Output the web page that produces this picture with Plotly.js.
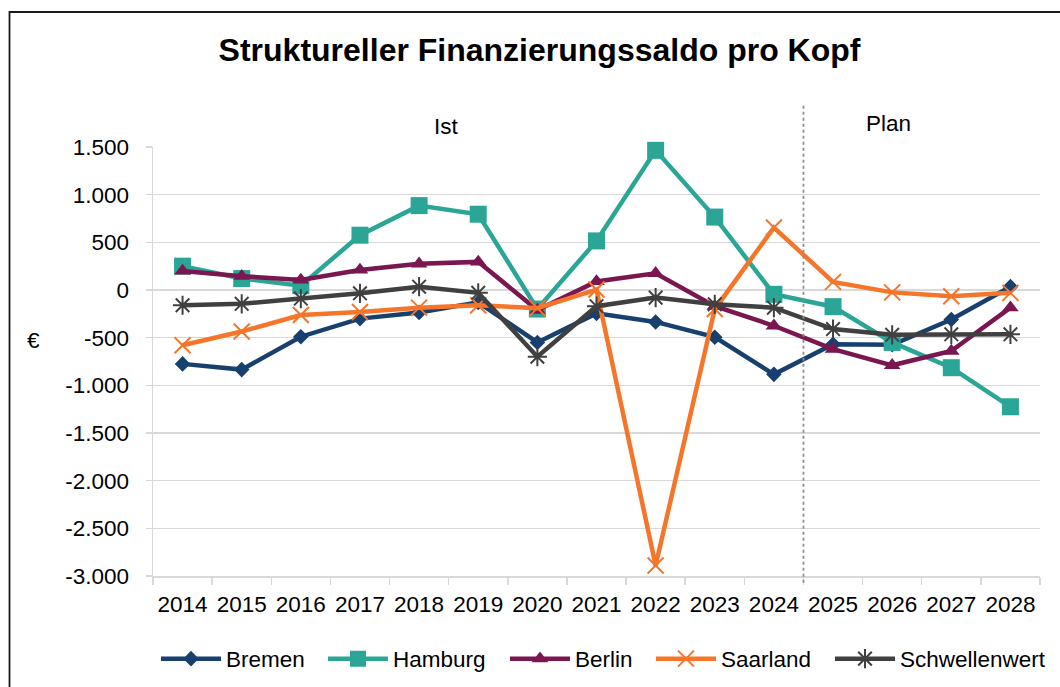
<!DOCTYPE html>
<html>
<head>
<meta charset="utf-8">
<script src="https://cdn.plot.ly/plotly-3.0.1.min.js"></script>
<style>
  html, body { margin: 0; padding: 0; background: #ffffff; }
  #chart { width: 1060px; height: 687px; }
</style>
</head>
<body>
<div id="chart"></div>
<script>
const years = ['2014','2015','2016','2017','2018','2019','2020','2021','2022','2023','2024','2025','2026','2027','2028'];

const bremen        = [-775, -835, -490, -300, -235, -130, -550, -245, -335, -495, -885, -570, -575, -310, 35];
const hamburg       = [250, 120, 45, 575, 885, 795, -200, 515, 1465, 765, -45, -175, -550, -815, -1225];
const berlin        = [200, 145, 105, 210, 275, 295, -210, 90, 175, -170, -375, -620, -790, -640, -185];
const saarland      = [-580, -435, -262, -230, -185, -160, -190, 5, -2890, -200, 655, 85, -25, -65, -30];
const schwellenwert = [-160, -145, -90, -35, 35, -30, -700, -170, -80, -150, -185, -410, -470, -465, -465];

const seriesNames = ['Bremen', 'Hamburg', 'Berlin', 'Saarland', 'Schwellenwert'];

const yTickVals = [1500, 1000, 500, 0, -500, -1000, -1500, -2000, -2500, -3000];
const yTickText = ['1.500', '1.000', '500', '0', '-500', '-1.000', '-1.500', '-2.000', '-2.500', '-3.000'];

const titleText = 'Struktureller Finanzierungssaldo pro Kopf';
const yUnit = '€';
const periodLabels = ['Ist', 'Plan'];

const FONT = 'Liberation Sans, Arial, sans-serif';

const styles = [
  {color: '#17406E', symbol: 'diamond', size: 12, lw: 0},
  {color: '#2AA596', symbol: 'square', size: 17, lw: 0},
  {color: '#7A1650', symbol: 'triangle-up', size: 14.5, lw: 0},
  {color: '#F5762A', symbol: 'x-thin-open', size: 16, lw: 2},
  {color: '#404040', symbol: 'asterisk-open', size: 16, lw: 2}
];

// left edge (px) of each legend entry
const legendLeft = [156, 323, 505, 651, 830];
const legendKeys = ['legend', 'legend2', 'legend3', 'legend4', 'legend5'];

const values = [bremen, hamburg, berlin, saarland, schwellenwert];

const traces = values.map((v, i) => ({
  type: 'scatter',
  mode: 'lines+markers',
  name: seriesNames[i],
  legend: legendKeys[i],
  x: years,
  y: v,
  line: {color: styles[i].color, width: 4.5},
  marker: {
    color: styles[i].color,
    symbol: styles[i].symbol,
    size: styles[i].size,
    line: {color: styles[i].color, width: styles[i].lw}
  },
  cliponaxis: false
}));

const layout = {
  width: 1060,
  height: 687,
  margin: {l: 153, r: 20, t: 147, b: 111, autoexpand: false},
  paper_bgcolor: '#ffffff',
  plot_bgcolor: '#ffffff',
  font: {family: FONT, size: 22.5, color: '#000000'},
  showlegend: true,
  title: {
    text: '<b>' + titleText + '</b>',
    font: {family: FONT, size: 32, color: '#000000'},
    x: 0.509, xanchor: 'center',
    y: 1 - 50 / 687, yanchor: 'middle'
  },
  xaxis: {
    type: 'category',
    range: [-0.5, 14.5],
    tickson: 'boundaries',
    tickangle: 0,
    showgrid: false,
    showline: true,
    linecolor: '#d9d9d9',
    linewidth: 1.5,
    ticks: 'outside',
    ticklen: 7,
    tickcolor: '#d9d9d9',
    tickwidth: 1.5,
    ticklabelstandoff: 7,
    tickfont: {family: FONT, size: 22.5, color: '#000000'},
    zeroline: false,
    automargin: false,
    fixedrange: true
  },
  yaxis: {
    range: [-3000, 1500],
    tickvals: yTickVals,
    ticktext: yTickText,
    showgrid: true,
    gridcolor: '#d9d9d9',
    gridwidth: 1.5,
    showline: true,
    linecolor: '#d9d9d9',
    linewidth: 1.5,
    ticks: 'outside',
    ticklen: 6,
    tickcolor: '#d9d9d9',
    tickwidth: 1.5,
    ticklabelstandoff: 12,
    tickfont: {family: FONT, size: 22.5, color: '#000000'},
    zeroline: false,
    automargin: false,
    fixedrange: true
  },
  shapes: [
    {
      type: 'line', xref: 'x', yref: 'paper',
      x0: 10.5, x1: 10.5, y0: -0.016, y1: 1.098,
      line: {color: '#8c8c8c', width: 1.8, dash: 'dot'}
    },
    {
      type: 'rect', xref: 'paper', yref: 'paper',
      x0: (9.5 - 153) / 887, x1: 1.05,
      y0: -0.35, y1: (576 - 12) / 429,
      line: {color: '#1a1a1a', width: 1.8},
      fillcolor: 'rgba(0,0,0,0)'
    }
  ],
  annotations: [
    {
      text: yUnit, xref: 'paper', yref: 'paper',
      x: (33 - 153) / 887, y: (576 - 340) / 429,
      xanchor: 'center', yanchor: 'middle', showarrow: false,
      font: {family: FONT, size: 22.5, color: '#000000'}
    },
    {
      text: periodLabels[0], xref: 'x', yref: 'paper',
      x: 4.47, y: (576 - 126) / 429,
      xanchor: 'center', yanchor: 'middle', showarrow: false,
      font: {family: FONT, size: 22.5, color: '#000000'}
    },
    {
      text: periodLabels[1], xref: 'x', yref: 'paper',
      x: 11.93, y: (576 - 124) / 429,
      xanchor: 'center', yanchor: 'middle', showarrow: false,
      font: {family: FONT, size: 22.5, color: '#000000'}
    }
  ]
};

legendKeys.forEach((k, i) => {
  layout[k] = {
    orientation: 'h',
    x: (legendLeft[i] - 153) / 887, xanchor: 'left',
    y: (576 - 659) / 429, yanchor: 'middle',
    font: {family: FONT, size: 22.5, color: '#000000'},
    itemwidth: 60,
    bgcolor: 'rgba(0,0,0,0)'
  };
});

Plotly.newPlot('chart', traces, layout, {displayModeBar: false, staticPlot: true});
</script>
</body>
</html>
